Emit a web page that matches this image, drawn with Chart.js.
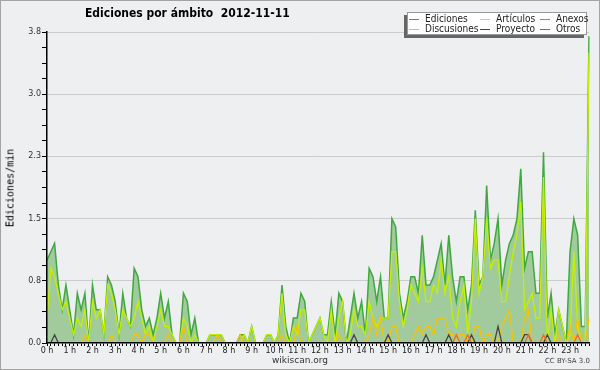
<!DOCTYPE html>
<html>
<head>
<meta charset="utf-8">
<script src="https://cdn.jsdelivr.net/npm/chart.js@4"></script>
<style>
  body { margin: 0; background: #fff; }
  #wrap { position: relative; width: 600px; height: 370px; background: #eeeff1; overflow: hidden; font-family: 'DejaVu Sans', sans-serif; }
  #wrap canvas { position: absolute; left: 0; top: 0; }
  #frame { position: absolute; left: 0; top: 0; right: 0; bottom: 0; border: 1px solid #a4a4a4; pointer-events: none; }
  #title { position: absolute; left: 85px; top: 5px; font-weight: bold; font-size: 13px; color: #000; white-space: pre; transform-origin: 0 0; }
  #legend { position: absolute; left: 407px; top: 12px; width: 180px; height: 23px; background: #fff; border: 1px solid #999; box-sizing: border-box; box-shadow: -3px 3px 0 #666; }
  .item { position: absolute; font-size: 10px; line-height: 10px; color: #222; white-space: nowrap; }
  .item i { position: absolute; top: 5px; width: 10px; height: 1px; }
  .item span { display: inline-block; margin-left: 16px; transform: scaleX(0.9); transform-origin: 0 0; }
  #ylabel { position: absolute; left: 10px; top: 188px; transform: translate(-50%, -50%) rotate(-90deg); font-family: 'DejaVu Sans Mono', monospace; font-size: 10px; color: #000; white-space: nowrap; }
  #site { position: absolute; left: 0; width: 600px; top: 355px; text-align: center; font-size: 9px; color: #333; }
  #lic { position: absolute; right: 10px; top: 357px; font-size: 7px; color: #444; }
</style>
</head>
<body>
<div id="wrap">
  <canvas id="chart" width="600" height="370"></canvas>
  <div id="title">Ediciones por ámbito  2012-11-11</div>
  <div id="legend"></div>
  <div id="ylabel">Ediciones/min</div>
  <div id="site">wikiscan.org</div>
  <div id="lic">CC BY-SA 3.0</div>
  <div id="frame"></div>
</div>
<script>
// 10-minute slots, 0 h .. 23 h 50
const slots = [];
for (let h = 0; h < 24; h++) for (let m = 0; m < 60; m += 10) slots.push(h + ':' + String(m).padStart(2, '0'));

// edits per minute, one row per hour
const ediciones = [
  1.0,1.1,1.2,0.7,0.4,0.7,  0.4,0.1,0.6,0.4,0.6,0.0,  0.7,0.4,0.4,0.1,0.8,0.7,
  0.5,0.1,0.6,0.3,0.2,0.9,  0.8,0.4,0.2,0.3,0.1,0.3,  0.6,0.3,0.5,0.1,0.0,0.0,
  0.6,0.5,0.1,0.3,0.0,0.0,  0.0,0.1,0.1,0.1,0.1,0.0,  0.0,0.0,0.0,0.1,0.1,0.0,
  0.2,0.0,0.0,0.0,0.1,0.1,  0.0,0.1,0.7,0.2,0.0,0.3,  0.3,0.6,0.5,0.0,0.1,0.2,
  0.3,0.1,0.1,0.5,0.1,0.6,  0.5,0.0,0.3,0.6,0.3,0.5,  0.1,0.9,0.8,0.5,0.8,0.3,
  0.3,1.5,1.4,0.6,0.3,0.5,  0.8,0.8,0.6,1.3,0.7,0.7,  0.8,1.0,1.2,0.7,1.3,0.8,
  0.5,0.8,0.8,0.4,0.7,1.6,  0.7,0.8,1.9,1.0,1.2,1.5,  0.7,1.0,1.2,1.3,1.5,2.1,
  0.9,1.1,1.1,0.6,0.6,2.3,  0.3,0.6,0.1,0.4,0.2,0.0,  1.1,1.5,1.3,0.2,0.2,3.7
];
const articulos = [
  0.3,0.9,0.8,0.6,0.4,0.5,  0.3,0.1,0.3,0.2,0.4,0.0,  0.5,0.3,0.4,0.1,0.7,0.6,
  0.4,0.1,0.4,0.3,0.2,0.3,  0.5,0.3,0.1,0.2,0.0,0.2,  0.4,0.2,0.2,0.1,0.0,0.0,
  0.3,0.2,0.0,0.1,0.0,0.0,  0.0,0.1,0.1,0.1,0.1,0.0,  0.0,0.0,0.0,0.0,0.1,0.0,
  0.2,0.0,0.0,0.0,0.1,0.1,  0.0,0.1,0.6,0.1,0.0,0.2,  0.1,0.4,0.4,0.0,0.1,0.2,
  0.3,0.1,0.0,0.4,0.0,0.3,  0.5,0.0,0.1,0.4,0.2,0.2,  0.1,0.5,0.3,0.2,0.3,0.3,
  0.3,1.1,1.1,0.5,0.2,0.4,  0.7,0.6,0.5,0.9,0.5,0.5,  0.7,0.6,1.0,0.6,0.8,0.3,
  0.2,0.5,0.7,0.1,0.5,1.5,  0.6,0.8,1.5,0.9,1.0,1.0,  0.5,0.5,0.8,1.1,1.3,1.7,
  0.4,0.5,0.6,0.3,0.3,2.0,  0.0,0.4,0.0,0.4,0.2,0.0,  0.1,1.1,0.2,0.0,0.0,3.5
];
const anexos = [
  0,0,0,0,0,0,  0,0,0,0,0,0,  0,0,0,0,0,0,  0,0,0,0,0,0,  0,0,0,0,0,0,  0,0,0,0,0,0,
  0,0,0,0,0,0,  0,0,0,0,0,0,  0,0,0,0,0,0,  0,0,0,0,0,0,  0,0,0,0,0,0,  0,0,0,0,0,0,
  0,0,0,0,0,0,  0,0,0,0,0,0,  0,0,0,0,0,0,  0,0,0,0,0,0,  0,0,0,0,0,0,  0,0,0,0,0,0,
  0.1,0,0,0.1,0,0,  0,0,0,0,0,0,  0,0,0,0,0,0,  0,0.1,0,0,0,0.1,  0,0,0,0,0,0,  0,0,0.1,0,0,0
];
const discusiones = [
  0,0,0,0,0,0,  0,0,0,0,0.1,0,  0,0,0,0,0,0.1,  0,0,0,0,0,0.1,
  0.1,0,0.1,0.1,0,0,  0,0,0.1,0,0,0,  0.2,0,0,0,0,0,  0,0,0,0.1,0,0,
  0,0,0,0.1,0,0,  0,0,0,0,0,0,  0,0,0.1,0,0,0,  0.2,0,0,0,0,0,
  0,0,0,0,0,0.1,  0,0,0,0,0,0,  0,0.1,0.3,0.1,0.3,0,  0,0.2,0.2,0,0,0,
  0,0.1,0.2,0.1,0.2,0.2,  0.1,0.3,0.3,0.3,0.1,0.1,  0,0.1,0.1,0,0,0.2,  0.2,0,0.1,0.1,0,0,
  0.2,0.3,0.4,0,0,0,  0.3,0.4,0,0,0,0.1,  0,0,0,0.1,0,0,  0.2,0,0.3,0,0,0.3
];
const proyecto = [
  0,0,0.1,0,0,0,  0,0,0,0,0,0,  0,0,0,0,0,0,  0,0,0,0,0,0,  0,0,0,0,0,0,  0,0,0,0,0,0,
  0,0,0,0,0,0,  0,0,0,0,0,0,  0,0,0,0,0,0,  0,0,0,0,0,0,  0,0,0,0,0,0,  0,0,0,0,0,0,
  0,0,0,0,0,0,  0,0,0,0.1,0,0,  0,0,0,0,0,0,  0.1,0,0,0,0,0,  0,0,0,0,0.1,0,  0,0,0,0,0.1,0,
  0,0,0,0,0.1,0,  0,0,0,0,0,0.2,  0,0,0,0,0,0,  0.1,0.1,0,0,0,0,  0.1,0,0,0,0,0,  0,0,0,0,0,0
];
const otros = [
  0,0,0,0,0,0,  0,0,0,0,0,0,  0,0,0,0,0,0,  0,0,0,0,0,0,  0,0,0,0,0,0,  0,0,0,0,0,0,
  0,0,0,0,0,0,  0,0,0,0,0,0,  0,0,0,0,0,0,  0,0,0,0,0,0,  0,0,0,0,0,0,  0,0,0,0,0,0,
  0,0,0,0,0,0,  0,0,0,0,0,0,  0,0,0,0,0,0,  0,0,0,0,0,0,  0,0,0,0,0,0,  0,0,0,0,0,0,
  0,0,0,0,0,0,  0,0,0,0,0,0,  0,0,0,0,0,0,  0,0,0,0,0,0,  0,0,0,0,0,0,  0,0,0,0,0,0
];

const yMax = 3.75;
const yStep = 0.1875;  // minor tick; every 4th one is labelled

const colors = {
  Ediciones: '#3fa83f',
  'Artículos': '#c4f000',
  Anexos: '#f06a28',
  Discusiones: '#f5c400',
  Proyecto: '#444444',
  Otros: '#9a44ee'
};

// squeeze the title to the width it has in the original
const titleEl = document.getElementById('title');
titleEl.style.transform = 'scaleX(' + (205 / titleEl.offsetWidth) + ')';

// html legend, 3 columns x 2 rows like the original
const legendCells = [
  ['Ediciones', 0, 0], ['Artículos', 1, 0], ['Anexos', 2, 0],
  ['Discusiones', 0, 1], ['Proyecto', 1, 1], ['Otros', 2, 1]
];
const colX = [1, 72, 132];
const legendEl = document.getElementById('legend');
legendCells.forEach(([name, c, r]) => {
  const d = document.createElement('div');
  d.className = 'item';
  d.style.left = colX[c] + 'px';
  d.style.top = (1 + r * 10) + 'px';
  d.innerHTML = '<i style="left:0;background:' + colors[name] + '"></i><span>' + name + '</span>';
  legendEl.appendChild(d);
});

const ds = (label, data, order, extra) => Object.assign({
  label, data, order,
  borderColor: colors[label],
  borderWidth: 1.3,
  pointRadius: 0,
  tension: 0,
  fill: false
}, extra || {});

const ctx = document.getElementById('chart').getContext('2d');
new Chart(ctx, {
  type: 'line',
  data: {
    labels: slots,
    datasets: [
      ds('Ediciones', ediciones, 6, { fill: 'origin', backgroundColor: '#a1cb9d', borderWidth: 1.5 }),
      ds('Artículos', articulos, 5),
      ds('Discusiones', discusiones, 4),
      ds('Proyecto', proyecto, 3),
      ds('Anexos', anexos, 2),
      ds('Otros', otros, 1)
    ]
  },
  options: {
    responsive: false,
    animation: false,
    devicePixelRatio: 1,
    layout: { padding: { left: 0, top: 32, right: 11, bottom: 15 } },
    plugins: {
      legend: { display: false },
      title: { display: false },
      tooltip: { enabled: false }
    },
    scales: {
      x: {
        type: 'category',
        offset: false,
        grid: { drawOnChartArea: false, tickLength: 3, color: '#000', tickColor: '#000' },
        border: { color: '#000', width: 1.5, z: 1 },
        ticks: {
          autoSkip: false,
          maxRotation: 0,
          minRotation: 0,
          padding: 0,
          color: '#222',
          font: { family: 'DejaVu Sans', size: 8 },
          callback: (v, i) => (i % 6 === 0 ? (i / 6) + ' h' : '')
        },
        afterFit: s => { s.height = 12; }
      },
      y: {
        min: 0,
        max: yMax,
        grid: {
          color: c => (c.index % 4 === 0 && c.index > 0 ? '#cccccc' : 'rgba(0,0,0,0)'),
          tickColor: '#000',
          tickLength: 5
        },
        border: { color: '#000', width: 1.5, z: 1 },
        ticks: {
          stepSize: yStep,
          padding: 1,
          color: '#333',
          font: { family: 'DejaVu Sans', size: 8 },
          callback: (v, i) => (i % 4 === 0 ? v.toFixed(1) : '')
        },
        afterFit: s => { s.width = 47; }
      }
    }
  }
});
</script>
</body>
</html>
